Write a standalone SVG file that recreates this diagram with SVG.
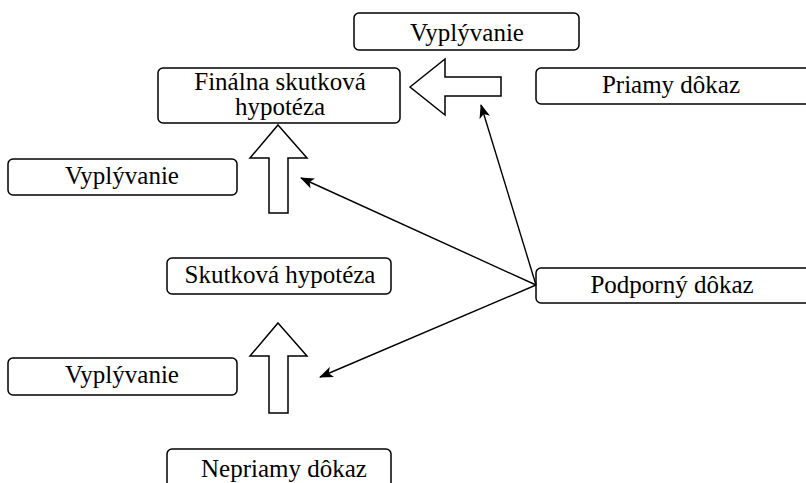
<svg xmlns="http://www.w3.org/2000/svg" width="806" height="483" viewBox="0 0 806 483">
  <defs>
    <style>
      .box { fill: #fff; stroke: #000; stroke-width: 1.5; }
      .label { font-family: "Liberation Serif", "Times New Roman", serif; font-size: 25px; fill: #000; text-anchor: middle; }
      .big-arrow { fill: #fff; stroke: #000; stroke-width: 1.5; stroke-linejoin: miter; }
      .link { stroke: #000; stroke-width: 1.4; fill: none; marker-end: url(#head); }
    </style>
    <marker id="head" viewBox="0 0 14 11" refX="13" refY="5.5" markerWidth="14" markerHeight="11" markerUnits="userSpaceOnUse" orient="auto">
      <path d="M0,0 L14,5.5 L0,11 L3.5,5.5 Z" fill="#000"/>
    </marker>
  </defs>
  <rect width="806" height="483" fill="#fff"/>

  <g id="vyplyvanie-top">
    <rect class="box" x="354" y="13" width="225" height="37" rx="5"/>
    <text class="label" x="467" y="41">Vyplývanie</text>
  </g>

  <g id="finalna-hypoteza">
    <rect class="box" x="158" y="68" width="242" height="55" rx="5"/>
    <text class="label" x="280" y="90">Finálna skutková</text>
    <text class="label" x="280" y="115">hypotéza</text>
  </g>

  <g id="priamy-dokaz">
    <rect class="box" x="536" y="68" width="280" height="36" rx="5"/>
    <text class="label" x="671" y="93">Priamy dôkaz</text>
  </g>

  <g id="vyplyvanie-middle">
    <rect class="box" x="8" y="159" width="229" height="36" rx="5"/>
    <text class="label" x="122" y="184">Vyplývanie</text>
  </g>

  <g id="skutkova-hypoteza">
    <rect class="box" x="167" y="258" width="224" height="36" rx="5"/>
    <text class="label" x="280" y="283">Skutková hypotéza</text>
  </g>

  <g id="podporny-dokaz">
    <rect class="box" x="536" y="268" width="280" height="35" rx="5"/>
    <text class="label" x="672" y="293">Podporný dôkaz</text>
  </g>

  <g id="vyplyvanie-bottom">
    <rect class="box" x="8" y="358" width="229" height="37" rx="5"/>
    <text class="label" x="122" y="383">Vyplývanie</text>
  </g>

  <g id="nepriamy-dokaz">
    <rect class="box" x="167" y="449" width="224" height="50" rx="5"/>
    <text class="label" x="284" y="477">Nepriamy dôkaz</text>
  </g>

  <g id="connectors">
    <!-- hollow block arrows -->
    <path class="big-arrow" d="M410,87 L445,59 L445,77 L501,77 L501,96 L445,96 L445,115 Z"/>
    <path class="big-arrow" d="M278,125 L307,158 L288,158 L288,213 L269,213 L269,158 L250,158 Z"/>
    <path class="big-arrow" d="M278,323 L307,356 L288,356 L288,413 L269,413 L269,356 L250,356 Z"/>
    <!-- support lines -->
    <line class="link" x1="536" y1="285" x2="481" y2="105"/>
    <line class="link" x1="536" y1="285" x2="301" y2="178"/>
    <line class="link" x1="536" y1="285" x2="320" y2="377"/>
  </g>
</svg>
